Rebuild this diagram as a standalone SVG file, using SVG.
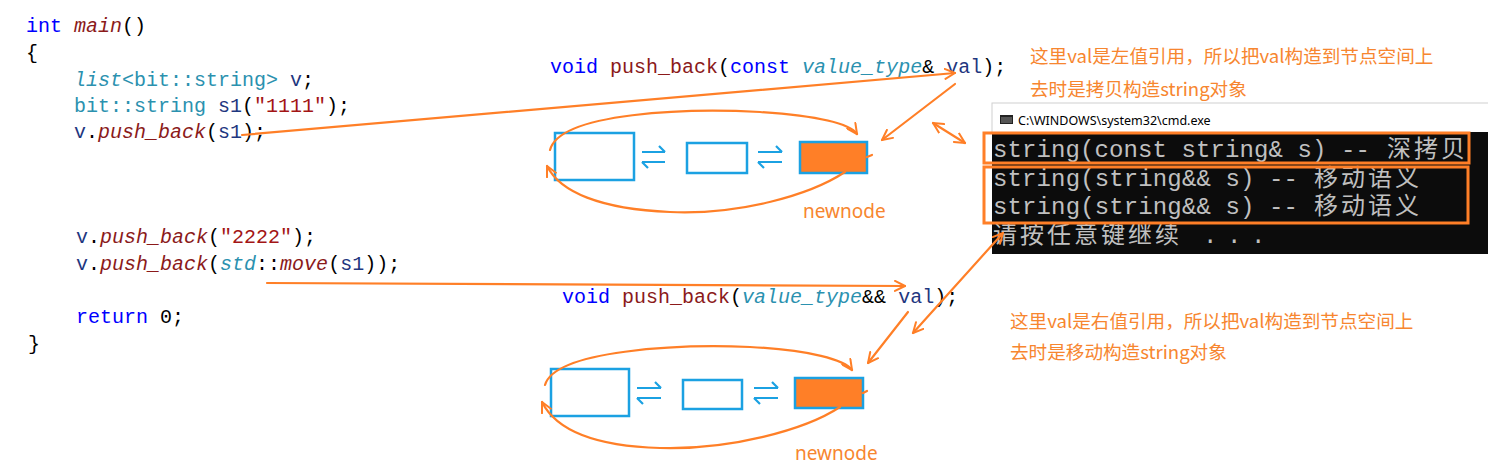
<svg xmlns="http://www.w3.org/2000/svg" width="1488" height="476" viewBox="0 0 1488 476">
<style>
.code{font-family:"Liberation Mono","DejaVu Sans Mono",monospace;font-size:20px;fill:#000}
.kw{fill:#0000ff}
.fn{fill:#8b1a1a}
.ty{fill:#2b91af}
.va{fill:#1f377f}
.st{fill:#a31515}
.it{font-style:italic}
.box{fill:#fff;stroke:#1ba1e2;stroke-width:2.5}
.newbox{fill:#ff7f27;stroke:#1ba1e2;stroke-width:2.5}
.dbl{fill:none;stroke:#1ba1e2;stroke-width:2.2}
.ann{font-family:"Noto Sans CJK SC","Noto Sans",sans-serif;font-size:18.6px;fill:#f7862f}
.lbl{font-family:"Noto Sans",sans-serif;font-size:19px;fill:#f7862f}
.term{font-family:"Liberation Mono","DejaVu Sans Mono",monospace;font-size:24px;fill:#c0c0c0}
.termc{font-family:"Noto Sans CJK SC",sans-serif;font-size:24px;letter-spacing:3px;fill:#c0c0c0}
.or{fill:none;stroke:#ff7f27;stroke-width:2.2;stroke-linecap:round;stroke-linejoin:round}
.hl{fill:none;stroke:#ff7f27;stroke-width:3}
</style>
<defs>
<marker id="ah" viewBox="0 0 12 12" refX="11" refY="6" markerWidth="12" markerHeight="12" markerUnits="userSpaceOnUse" orient="auto-start-reverse">
<path d="M1,1 L11,6 L1,11" fill="none" stroke="#ff7f27" stroke-width="2" stroke-linecap="round" stroke-linejoin="round"/>
</marker>
</defs>
<rect width="1488" height="476" fill="#fff"/>

<g id="code">
<text class="code" xml:space="preserve"><tspan x="26" y="32"><tspan class="kw">int</tspan> <tspan class="fn it">main</tspan>()</tspan></text>
<text class="code" x="26" y="59">{</text>
<text class="code" xml:space="preserve"><tspan x="74" y="86"><tspan class="ty it">list</tspan><tspan class="ty">&lt;bit::string&gt;</tspan> <tspan class="va">v</tspan>;</tspan></text>
<text class="code" xml:space="preserve"><tspan x="74" y="112"><tspan class="ty">bit::string</tspan> <tspan class="va">s1</tspan>(<tspan class="st">"1111"</tspan>);</tspan></text>
<text class="code" xml:space="preserve"><tspan x="74" y="138"><tspan class="va">v</tspan>.<tspan class="fn it">push_back</tspan>(<tspan class="va">s1</tspan>);</tspan></text>
<text class="code" xml:space="preserve"><tspan x="76" y="243"><tspan class="va">v</tspan>.<tspan class="fn it">push_back</tspan>(<tspan class="st">"2222"</tspan>);</tspan></text>
<text class="code" xml:space="preserve"><tspan x="76" y="270"><tspan class="va">v</tspan>.<tspan class="fn it">push_back</tspan>(<tspan class="ty it">std</tspan>::<tspan class="fn it">move</tspan>(<tspan class="va">s1</tspan>));</tspan></text>
<text class="code" xml:space="preserve"><tspan x="76" y="323"><tspan class="kw">return</tspan> 0;</tspan></text>
<text class="code" x="28" y="350">}</text>
</g>

<g id="sig-lvalue">
<text class="code" xml:space="preserve"><tspan x="550" y="73"><tspan class="kw">void</tspan> <tspan class="fn">push_back</tspan>(<tspan class="kw">const</tspan> <tspan class="ty it">value_type</tspan>&amp; <tspan class="va">val</tspan>);</tspan></text>
</g>
<g id="sig-rvalue">
<text class="code" xml:space="preserve"><tspan x="562" y="303"><tspan class="kw">void</tspan> <tspan class="fn">push_back</tspan>(<tspan class="ty it">value_type</tspan>&amp;&amp; <tspan class="va">val</tspan>);</tspan></text>
</g>

<g id="list-top">
<rect class="box" x="555" y="133" width="79" height="47"/>
<rect class="box" x="687" y="143" width="60" height="30"/>
<rect class="newbox" x="800" y="142" width="67" height="31"/>
<path class="dbl" d="M642,152 H665 M659,146 L665,152 M642,162 H665 M642,162 L648,168"/>
<path class="dbl" d="M758,152 H782 M776,146 L782,152 M758,162 H782 M758,162 L764,168"/>
<text class="lbl" x="803" y="218">newnode</text>
</g>

<g id="list-bottom">
<rect class="box" x="551" y="369" width="78" height="47"/>
<rect class="box" x="683" y="380" width="59" height="29"/>
<rect class="newbox" x="795" y="378" width="68" height="30"/>
<path class="dbl" d="M637,388 H661 M655,382 L661,388 M637,398 H661 M637,398 L643,404"/>
<path class="dbl" d="M754,388 H778 M772,382 L778,388 M754,398 H778 M754,398 L760,404"/>
<text class="lbl" x="795" y="460">newnode</text>
</g>

<g id="note-lvalue">
<text class="ann" x="1030" y="63">这里val是左值引用，所以把val构造到节点空间上</text>
<text class="ann" x="1030" y="96">去时是拷贝构造string对象</text>
</g>
<g id="note-rvalue">
<text class="ann" x="1010" y="328">这里val是右值引用，所以把val构造到节点空间上</text>
<text class="ann" x="1010" y="359">去时是移动构造string对象</text>
</g>

<g id="cmd">
<rect x="992" y="103" width="500" height="30" fill="#fff" stroke="#d0d0d0" stroke-width="1"/>
<rect x="1000" y="115" width="13" height="9" fill="#222"/>
<rect x="1001" y="117" width="11" height="6" fill="#555"/>
<text x="1018" y="125" font-family="Noto Sans,Liberation Sans,sans-serif" font-size="12.5" fill="#000">C:\WINDOWS\system32\cmd.exe</text>
<rect x="992" y="132" width="500" height="122" fill="#0c0c0c"/>
<text class="term" x="993" y="157" textLength="377" lengthAdjust="spacing">string(const string&amp; s) --</text>
<text class="termc" x="1387" y="157">深拷贝</text>
<text class="term" x="993" y="186" textLength="305" lengthAdjust="spacing">string(string&amp;&amp; s) --</text>
<text class="termc" x="1314" y="186">移动语义</text>
<text class="term" x="993" y="214" textLength="305" lengthAdjust="spacing">string(string&amp;&amp; s) --</text>
<text class="termc" x="1314" y="214">移动语义</text>
<text class="termc" x="993" y="243">请按任意键继续</text>
<text class="term" y="243"><tspan x="1203">.</tspan><tspan x="1227">.</tspan><tspan x="1251">.</tspan></text>
<rect class="hl" x="984" y="133" width="485" height="30"/>
<rect class="hl" x="984" y="167" width="484" height="56"/>
</g>

<g id="connectors">
<path class="or" d="M242,135 L955,73" marker-end="url(#ah)"/>
<path class="or" d="M955,84 L882,140" marker-end="url(#ah)"/>
<path class="or" d="M933,123 L965,143" marker-start="url(#ah)" marker-end="url(#ah)"/>
<path class="or" d="M267,283 L905,286" marker-end="url(#ah)"/>
<path class="or" d="M1003,233 L913,333" marker-start="url(#ah)" marker-end="url(#ah)"/>
<path class="or" d="M908,312 L868,363" marker-end="url(#ah)"/>
<path class="or" d="M550,150 C560,112 690,108 760,112 C820,116 850,124 857,134" marker-end="url(#ah)"/>
<path class="or" d="M845,172 C810,195 740,215 670,212 C600,209 560,192 547,166" marker-end="url(#ah)"/>
<path class="or" d="M867,157 L872,155"/>
<path class="or" d="M545,385 C555,350 680,344 750,347 C810,350 845,360 852,370" marker-end="url(#ah)"/>
<path class="or" d="M840,407 C805,430 730,450 660,448 C590,446 555,428 542,402" marker-end="url(#ah)"/>
<path class="or" d="M863,393 L867,391"/>
</g>
</svg>
